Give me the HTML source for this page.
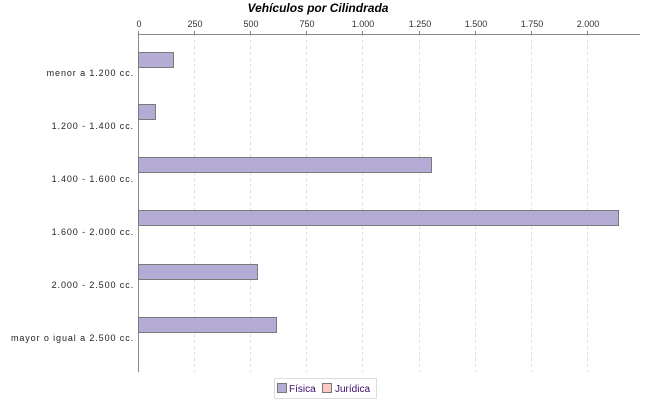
<!DOCTYPE html>
<html><head><meta charset="utf-8"><style>html,body{margin:0;padding:0;background:#fff}svg{display:block}</style></head>
<body>
<svg width="650" height="400" xmlns="http://www.w3.org/2000/svg" font-family="Liberation Sans, sans-serif">
<rect width="650" height="400" fill="#fff"/>
<text x="318" y="12" text-anchor="middle" font-size="12" font-weight="bold" font-style="italic" fill="#000">Vehículos por Cilindrada</text>
<g stroke="#ddd" stroke-dasharray="3,3" stroke-width="1">
<line x1="194.5" y1="34" x2="194.5" y2="372"/>
<line x1="250.5" y1="34" x2="250.5" y2="372"/>
<line x1="306.5" y1="34" x2="306.5" y2="372"/>
<line x1="362.5" y1="34" x2="362.5" y2="372"/>
<line x1="419.5" y1="34" x2="419.5" y2="372"/>
<line x1="475.5" y1="34" x2="475.5" y2="372"/>
<line x1="531.5" y1="34" x2="531.5" y2="372"/>
<line x1="587.5" y1="34" x2="587.5" y2="372"/>
</g>
<g font-size="9" fill="#333" text-anchor="middle">
<text x="139" y="27">0</text><text x="195" y="27">250</text><text x="251" y="27">500</text><text x="307" y="27">750</text><text x="363" y="27">1.000</text><text x="420" y="27">1.250</text><text x="476" y="27">1.500</text><text x="532" y="27">1.750</text><text x="588" y="27">2.000</text>
</g>
<g stroke="#888">
<line x1="138.5" y1="34.5" x2="640" y2="34.5"/>
<line x1="138.5" y1="34" x2="138.5" y2="372"/>
<g stroke="#808080"><line x1="138.5" y1="31" x2="138.5" y2="34"/><line x1="194.5" y1="31" x2="194.5" y2="34"/><line x1="250.5" y1="31" x2="250.5" y2="34"/><line x1="306.5" y1="31" x2="306.5" y2="34"/><line x1="362.5" y1="31" x2="362.5" y2="34"/><line x1="419.5" y1="31" x2="419.5" y2="34"/><line x1="475.5" y1="31" x2="475.5" y2="34"/><line x1="531.5" y1="31" x2="531.5" y2="34"/><line x1="587.5" y1="31" x2="587.5" y2="34"/></g>
</g>
<g fill="#b5acd6" stroke="#7a7a7a">
<rect x="138.5" y="52.5" width="35" height="15"/>
<rect x="138.5" y="104.5" width="17" height="15"/>
<rect x="138.5" y="157.5" width="293" height="15"/>
<rect x="138.5" y="210.5" width="480" height="15"/>
<rect x="138.5" y="264.5" width="119" height="15"/>
<rect x="138.5" y="317.5" width="138" height="15"/>
</g>
<g font-size="9" fill="#222" text-anchor="end" letter-spacing="0.9">
<text x="134" y="76">menor a 1.200 cc.</text>
<text x="134" y="129">1.200 - 1.400 cc.</text>
<text x="134" y="182">1.400 - 1.600 cc.</text>
<text x="134" y="235">1.600 - 2.000 cc.</text>
<text x="134" y="288">2.000 - 2.500 cc.</text>
<text x="134" y="341">mayor o igual a 2.500 cc.</text>
</g>
<rect x="274.5" y="378.5" width="102" height="20" fill="#fff" stroke="#ddd"/>
<rect x="277.5" y="383.5" width="9" height="9" fill="#b5acd6" stroke="#777"/>
<text x="289" y="392" font-size="10" fill="#3c0a6e">Física</text>
<rect x="322.5" y="383.5" width="9" height="9" fill="#fcc9c6" stroke="#777"/>
<text x="335" y="392" font-size="10" fill="#3c0a6e">Jurídica</text>
</svg>
</body></html>
